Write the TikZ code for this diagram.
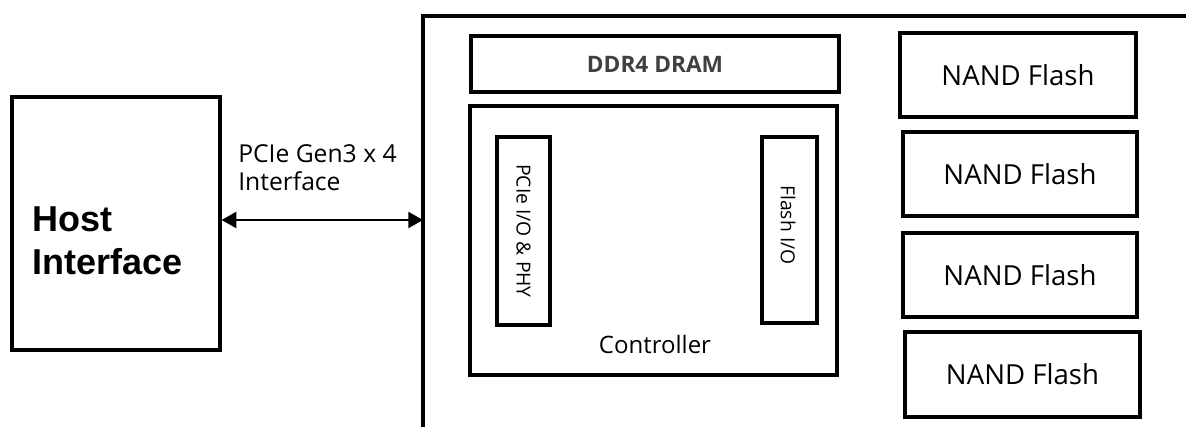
\documentclass[tikz,border=0pt]{standalone}
\usepackage{fontspec}
\setmainfont{Open Sans}
\newfontfamily\arialfont{Liberation Sans}
\usetikzlibrary{fit,arrows.meta}
\begin{document}
\begin{tikzpicture}[x=0.75pt,y=-0.75pt,
  box/.style={draw=black, inner sep=0pt, line width=#1},
  box/.default=2.4pt,
  darr/.style={{Triangle[length=11pt,width=12pt]}-{Triangle[length=11pt,width=12pt]}, line width=1.6pt}]
\useasboundingbox (0,0) rectangle (1186,427);
% host
\node[box, fit={(12,97)(220,350)}] (host) {};
\node[inner sep=0pt, anchor=west, align=left, font=\arialfont\bfseries\fontsize{27}{32}\selectfont] (hostlbl) at (32,241) {Host\\Interface};
% outer SSD outline
\coordinate (ssdbl) at (423,427);
\coordinate (ssdtl) at (423,16);
\coordinate (ssdtr) at (1186,16);
\coordinate (ssdl) at (423,220);
\draw[line width=2.4pt] (ssdbl) -- (ssdtl) -- (ssdtr);
% arrow
\draw[darr] (host.east |- ssdl) -- (ssdl);
\node[inner sep=0pt, anchor=north west, align=left, font=\fontsize{18.5}{21}\selectfont] (pcielbl) at (238,144) {PCIe Gen3 x 4\\Interface};
% DDR4
\node[box=3pt, fit={(471,36)(839,92)}] (ddr) {};
\node[inner sep=0pt, text=black!75, font=\bfseries\fontsize{17}{20}\selectfont] (ddrlbl) at (ddr.center) {DDR4 DRAM};
% controller
\node[box, fit={(470,106)(837,375)}] (ctrl) {};
\node[inner sep=0pt, font=\fontsize{18}{21}\selectfont] (ctrllbl) at (655,345) {Controller};
\node[box, fit={(497,137)(550,325)}] (pcieio) {};
\node[inner sep=0pt, rotate=-90, font=\fontsize{14.5}{17}\selectfont] (pcieiolbl) at (pcieio.center) {PCIe I/O \& PHY};
\node[box, fit={(762,137)(817,323)}] (flashio) {};
\node[inner sep=0pt, rotate=-90, font=\fontsize{14.5}{17}\selectfont] (flashiolbl) at (788,225) {Flash I/O};
% NAND
\node[box=3.6pt, fit={(900,33)(1136,117)}] (n1) {};
\node[box=3.6pt, fit={(903,132)(1137,216)}] (n2) {};
\node[box=3.6pt, fit={(903,233)(1137,317)}] (n3) {};
\node[box=3.6pt, fit={(905,332)(1140,417)}] (n4) {};
\foreach \n in {n1,n2,n3,n4}
  \node[inner sep=0pt, font=\fontsize{20.7}{24}\selectfont] (\n lbl) at (\n.center) {NAND Flash};
\end{tikzpicture}
\end{document}
